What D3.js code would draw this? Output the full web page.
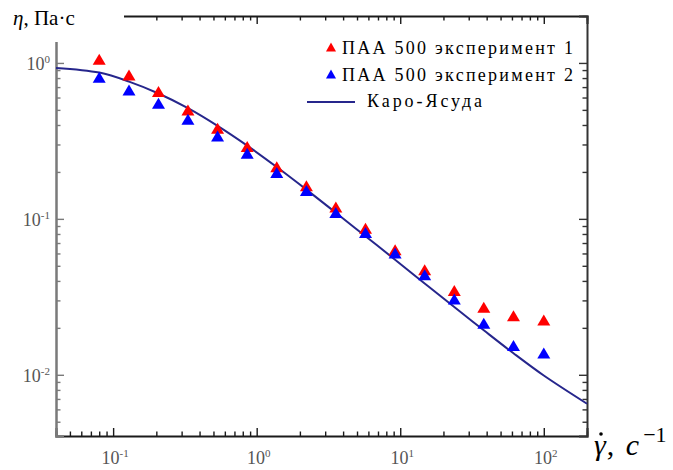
<!DOCTYPE html>
<html>
<head>
<meta charset="utf-8">
<script src="https://cdn.jsdelivr.net/npm/d3@7"></script>
<style>
  body { margin: 0; background: #fff; }
</style>
</head>
<body>
<div id="chart"></div>
<script>
// shear rate of the measured points, 1/s
var shearRate = [0.08, 0.129, 0.207, 0.332, 0.534, 0.859, 1.38, 2.22, 3.56, 5.73, 9.21, 14.8, 23.8, 38.2, 61.5, 100];
// viscosity, Pa*s
var viscosityExp1 = [1.056, 0.838, 0.655, 0.500, 0.381, 0.291, 0.216, 0.163, 0.119, 0.0871, 0.0633, 0.0471, 0.0347, 0.0271, 0.0239, 0.0225];
var viscosityExp2 = [0.810, 0.671, 0.552, 0.436, 0.340, 0.264, 0.198, 0.152, 0.110, 0.0817, 0.0603, 0.0438, 0.0306, 0.0214, 0.0154, 0.0138];
// Carreau-Yasuda curve
var fitRate = [0.04, 0.08, 0.129, 0.207, 0.332, 0.534, 0.859, 1.38, 2.22, 3.56, 5.73, 9.21, 14.8, 23.8, 38.2, 61.5, 100, 200];
var fitViscosity = [0.929, 0.867, 0.759, 0.637, 0.513, 0.395, 0.295, 0.215, 0.154, 0.1094, 0.0774, 0.0547, 0.0385, 0.0272, 0.0193, 0.01374, 0.00989, 0.00652];

var xMajor = [0.1, 1, 10, 100];
var xExponents = ["-1", "0", "1", "2"];
var yMajor = [1, 0.1, 0.01];
var yExponents = ["0", "-1", "-2"];
var legendLabels = ["ПАА 500 эксперимент 1", "ПАА 500 эксперимент 2", "Каро-Ясуда"];

var svgWidth = 673;
var svgHeight = 470;
var margin = { top: 16, right: 86, bottom: 34, left: 56 };
var width = svgWidth - margin.left - margin.right;
var height = svgHeight - margin.top - margin.bottom;
var serif = "'Liberation Serif', 'Times New Roman', serif";

var svg = d3.select("#chart")
  .append("svg")
  .attr("width", svgWidth)
  .attr("height", svgHeight)
  .attr("font-family", serif)
  .style("display", "block");

var chartGroup = svg.append("g")
  .attr("transform", `translate(${margin.left}, ${margin.top})`);

var xScale = d3.scaleLog().domain([0.04, 200]).range([0, width]);
var yScale = d3.scaleLog().domain([0.00405, 2]).range([height, 0]);

var isMajor = v => Math.abs(Math.log10(v) - Math.round(Math.log10(v))) < 1e-6;
var xMinor = xScale.ticks().filter(v => !isMajor(v));
var yMinor = yScale.ticks().filter(v => !isMajor(v));

// axes: major + minor ticks all pointing inward
function drawAxis(axisFn, scale, transform, majors, minors, dir, color, lw) {
  var g = chartGroup.append("g").attr("transform", transform);
  g.call(axisFn(scale).tickValues(majors).tickSize(8 * dir).tickFormat(""));
  g.append("g").call(axisFn(scale).tickValues(minors).tickSize(4.5 * dir).tickFormat(""))
    .select(".domain").remove();
  g.selectAll(".domain").attr("stroke", color).attr("stroke-width", lw);
  g.selectAll(".tick line").attr("stroke", color).attr("stroke-width", 1.4);
  return g;
}
drawAxis(d3.axisBottom, xScale, `translate(0, ${height})`, xMajor, xMinor, -1, "#1a1a1a", 2);
drawAxis(d3.axisTop, xScale, "translate(0, 0)", xMajor, xMinor, -1, "#1a1a1a", 2);
drawAxis(d3.axisLeft, yScale, "translate(0, 0)", yMajor, yMinor, -1, "#7a7a7a", 2.5);
drawAxis(d3.axisLeft, yScale, `translate(${width}, 0)`, yMajor, yMinor, 1, "#333", 2);

// tick labels with superscripts
var xLabels = chartGroup.selectAll(".xlab")
  .data(xMajor)
  .enter()
  .append("text")
  .attr("class", "xlab")
  .attr("x", d => xScale(d) + 2)
  .attr("y", height + 28)
  .attr("text-anchor", "middle")
  .attr("font-size", "18px")
  .attr("fill", "#555");
xLabels.append("tspan").text("10");
xLabels.append("tspan").attr("dy", -7).attr("font-size", "11px").text((d, i) => xExponents[i]);

var yLabels = chartGroup.selectAll(".ylab")
  .data(yMajor)
  .enter()
  .append("text")
  .attr("class", "ylab")
  .attr("x", -6)
  .attr("y", d => yScale(d) + 7)
  .attr("text-anchor", "end")
  .attr("font-size", "18px")
  .attr("fill", "#555");
yLabels.append("tspan").text("10");
yLabels.append("tspan").attr("dy", -7).attr("font-size", "11px").text((d, i) => yExponents[i]);

// model curve
var fitData = fitRate.map((r, i) => ({ r: r, v: fitViscosity[i] }));
var line = d3.line()
  .x(d => xScale(d.r))
  .y(d => yScale(d.v))
  .curve(d3.curveCatmullRom);

chartGroup.append("path")
  .datum(fitData)
  .attr("d", line)
  .attr("fill", "none")
  .attr("stroke", "#26268c")
  .attr("stroke-width", 2);

// triangle markers, centred on their bounding box
function tri(w, h) {
  return `M0,${-h / 2}L${w / 2},${h / 2}L${-w / 2},${h / 2}Z`;
}

chartGroup.selectAll(".exp1")
  .data(shearRate)
  .enter()
  .append("path")
  .attr("class", "exp1")
  .attr("d", tri(13, 11))
  .attr("transform", (d, i) => `translate(${xScale(d)}, ${yScale(viscosityExp1[i])})`)
  .attr("fill", "#ff0000");

chartGroup.selectAll(".exp2")
  .data(shearRate)
  .enter()
  .append("path")
  .attr("class", "exp2")
  .attr("d", tri(13, 11))
  .attr("transform", (d, i) => `translate(${xScale(d)}, ${yScale(viscosityExp2[i])})`)
  .attr("fill", "#0000ff");

// legend
var legend = svg.append("g");
var legendColors = ["#ff0000", "#0000ff"];
legendColors.forEach(function(c, i) {
  legend.append("path")
    .attr("d", tri(10, 9))
    .attr("transform", `translate(331, ${47 + i * 27})`)
    .attr("fill", c);
});
legend.append("line")
  .attr("x1", 307).attr("x2", 355)
  .attr("y1", 102).attr("y2", 102)
  .attr("stroke", "#26268c")
  .attr("stroke-width", 2);
legend.selectAll("text")
  .data(legendLabels)
  .enter()
  .append("text")
  .attr("x", (d, i) => i < 2 ? 342 : 367)
  .attr("y", (d, i) => [54, 81, 107][i])
  .attr("font-size", "18px")
  .attr("fill", "#000")
  .attr("textLength", (d, i) => i < 2 ? 231 : 115)
  .attr("lengthAdjust", "spacing")
  .text(d => d);

// axis titles (the y title sits in a white box over the frame corner)
svg.append("rect")
  .attr("x", 0).attr("y", 0)
  .attr("width", 124).attr("height", 42)
  .attr("fill", "#fff");

var yTitle = svg.append("text")
  .attr("x", 13)
  .attr("y", 25)
  .attr("font-size", "21px")
  .attr("fill", "#000");
yTitle.append("tspan").attr("font-style", "italic").text("η");
yTitle.append("tspan").text(", Па·с");

var xTitle = svg.append("text")
  .attr("x", 594)
  .attr("y", 455)
  .attr("font-size", "30px")
  .attr("fill", "#000");
xTitle.append("tspan").attr("font-style", "italic").text("γ");
xTitle.append("tspan").attr("dx", 1).text(", ");
xTitle.append("tspan").attr("dx", 4).attr("font-style", "italic").text("c");
xTitle.append("tspan").attr("dx", 4).attr("dy", -13).attr("font-size", "22px").text("\u22121");

// dot over gamma
svg.append("circle")
  .attr("cx", 601)
  .attr("cy", 434)
  .attr("r", 1.8)
  .attr("fill", "#000");
</script>
</body>
</html>
